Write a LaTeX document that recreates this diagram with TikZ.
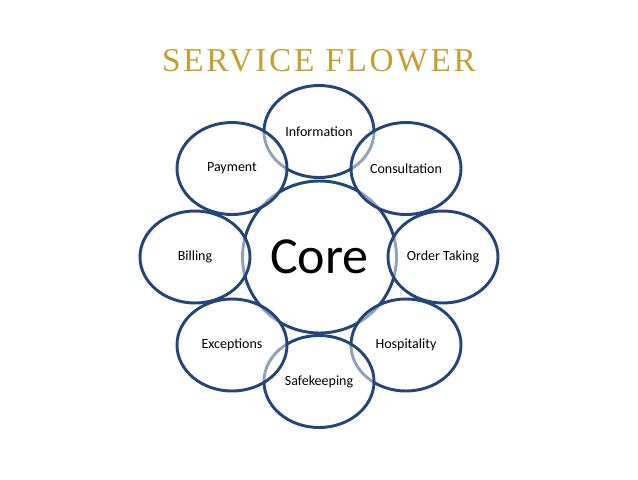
\documentclass[tikz,border=0pt]{standalone}
\usepackage{fontspec}
\setmainfont{Carlito}
\newfontfamily\titlefont[LetterSpace=8]{Liberation Serif}
\usetikzlibrary{shapes.geometric}
\definecolor{petalblue}{HTML}{22467A}
\definecolor{titlegold}{HTML}{C79F2C}
\tikzset{
  petal/.style={ellipse, draw=petalblue, line width=2.2pt, fill=white, fill opacity=0.5, text opacity=1,
    minimum width=82.5pt, minimum height=69pt, inner sep=0pt, font=\fontsize{10.5pt}{12pt}\selectfont},
  corebox/.style={ellipse, draw=petalblue, line width=2.2pt, fill=white,
    minimum width=115.5pt, minimum height=114pt, inner sep=0pt, font=\fontsize{39pt}{44pt}\selectfont}
}
\begin{document}
\begin{tikzpicture}[x=0.75pt,y=-0.75pt]
\useasboundingbox (0,0) rectangle (638,479);
\node[font=\titlefont\fontsize{25pt}{28pt}\selectfont, text=titlegold] (title) at (319,61) {SERVICE FLOWER};
\node[corebox] (core) at (319.5,257) {Core};
\node[petal] (info) at (319,131.5) {Information};
\node[petal] (consult) at (406,168.5) {Consultation};
\node[petal] (order) at (443,257) {Order Taking};
\node[petal] (hosp) at (406,345) {Hospitality};
\node[petal] (safe) at (319,381.5) {Safekeeping};
\node[petal] (except) at (232,345) {Exceptions};
\node[petal] (billing) at (195,257) {Billing};
\node[petal] (payment) at (232,168.5) {Payment};
\end{tikzpicture}
\end{document}
